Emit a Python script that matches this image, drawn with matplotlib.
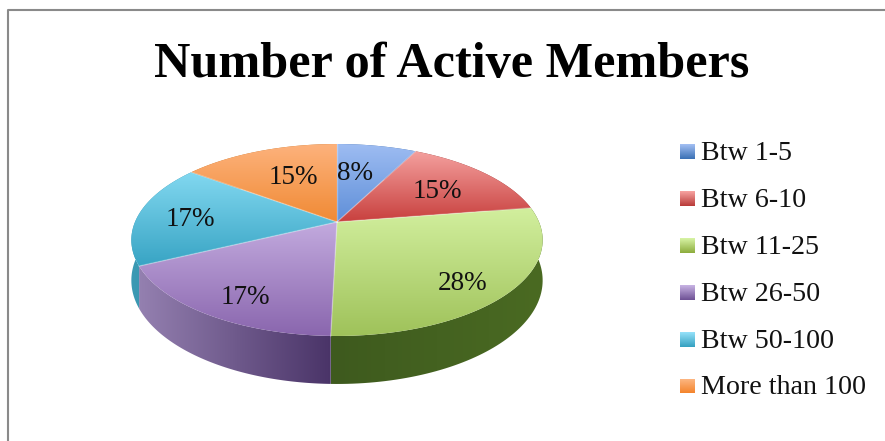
import numpy as np
import matplotlib
matplotlib.use("Agg")
import matplotlib.pyplot as plt
from matplotlib.colors import LinearSegmentedColormap
from matplotlib.patches import Polygon

title = "Number of Active Members"
categories = ["Btw 1-5", "Btw 6-10", "Btw 11-25", "Btw 26-50", "Btw 50-100", "More than 100"]
# slice sizes, printed labels are these rounded
values = [7.5, 15.0, 27.9, 17.4, 17.4, 14.8]
pct_labels = ["8%", "15%", "28%", "17%", "17%", "15%"]

# top colours: (far edge, near edge)
top_colors = [("#9dbcf2", "#5f8fd8"), ("#f4a09e", "#c8403e"), ("#d2ef9e", "#9fc25a"),
              ("#c2aade", "#8a66ae"), ("#82d8f0", "#38a4c4"), ("#fdb27c", "#f08a34")]
# side wall colours: (left, right)
wall_colors = [("#3f6ca8", "#3f6ca8"), ("#8e3432", "#8e3432"), ("#3e5a1e", "#4a6a22"),
               ("#9480b0", "#4a3468"), ("#3c9ab4", "#2f8aa4"), ("#c07028", "#c07028")]
legend_colors = [("#a4c0f4", "#3a70b4"), ("#f8a4a2", "#b83a38"), ("#d8f4a6", "#8cac3c"),
                 ("#c8b4e4", "#6e5094"), ("#96e2fa", "#34a0c0"), ("#fdba88", "#f4842c")]
label_xy = [(355, 173), (437, 192), (463, 283), (245, 298), (190, 220), (293, 178)]

cx, cy = 337, 222
R, K, P = 202, 92.6, 0.1875
H = 39


def project(theta, r=1.0, drop=0.0):
    u = r * np.sin(theta)
    v = r * np.cos(theta)
    d = 1 + P * v
    return cx + R * u / d, cy - K * v / d + drop * H / d


def grad(ax, path_patch, c0, c1, horizontal=False):
    ax.add_patch(path_patch)
    path_patch.set_facecolor("none")
    path_patch.set_edgecolor("none")
    xy = path_patch.get_xy()
    x0, x1 = xy[:, 0].min(), xy[:, 0].max()
    y0, y1 = xy[:, 1].min(), xy[:, 1].max()
    cmap = LinearSegmentedColormap.from_list("g", [c0, c1])
    g = np.linspace(0, 1, 128)
    g = g[None, :] if horizontal else g[:, None]
    im = ax.imshow(g, cmap=cmap, extent=(x0, x1, y1, y0), aspect="auto", vmin=0, vmax=1,
                   interpolation="bilinear", zorder=path_patch.get_zorder())
    im.set_clip_path(path_patch)


fig = plt.figure(figsize=(8.85, 4.41), dpi=100)
ax = fig.add_axes([0, 0, 1, 1])
serif = ["Liberation Serif", "DejaVu Serif"]

# frame
ax.plot([8, 8, 885], [441, 10, 10], color="#8a8a8a", lw=1.5, zorder=1)

edges = np.cumsum([0] + values) / sum(values) * 2 * np.pi

for i in range(len(values)):
    t = np.linspace(edges[i], edges[i + 1], 80)
    xa, ya = project(t)
    xb, yb = project(t, drop=1.0)
    pts = np.r_[np.c_[xa, ya], np.c_[xb, yb][::-1]]
    grad(ax, Polygon(pts, closed=True, zorder=2), wall_colors[i][0], wall_colors[i][1], horizontal=True)

for i in range(len(values)):
    t = np.linspace(edges[i], edges[i + 1], 80)
    xa, ya = project(t)
    pts = np.r_[[[cx, cy]], np.c_[xa, ya]]
    grad(ax, Polygon(pts, closed=True, zorder=3), top_colors[i][0], top_colors[i][1])

# soft light seams between the slices
for e in edges[:-1]:
    xe, ye = project(e)
    ax.plot([cx, xe], [cy, ye], color="white", alpha=0.3, lw=1, zorder=3.5)

for s, (x, y) in zip(pct_labels, label_xy):
    ax.text(x, y, s, ha="center", va="center", fontsize=19.5, family=serif, color="#111111", zorder=5)

ax.text(451.5, 65, title, ha="center", va="center", fontsize=36.2, fontweight="bold", family=serif, color="black", zorder=5)

for i, name in enumerate(categories):
    y = 151.5 + i * 46.9
    box = Polygon([(680, y - 7.5), (695, y - 7.5), (695, y + 7.5), (680, y + 7.5)], closed=True, zorder=4)
    grad(ax, box, legend_colors[i][0], legend_colors[i][1])
    ax.text(701, y + 2, name, ha="left", va="center", fontsize=20.2, family=serif, color="#111111", zorder=5)

ax.set_xlim(0, 885)
ax.set_ylim(441, 0)
ax.axis("off")
fig.savefig("out.png", dpi=100, facecolor="white")
